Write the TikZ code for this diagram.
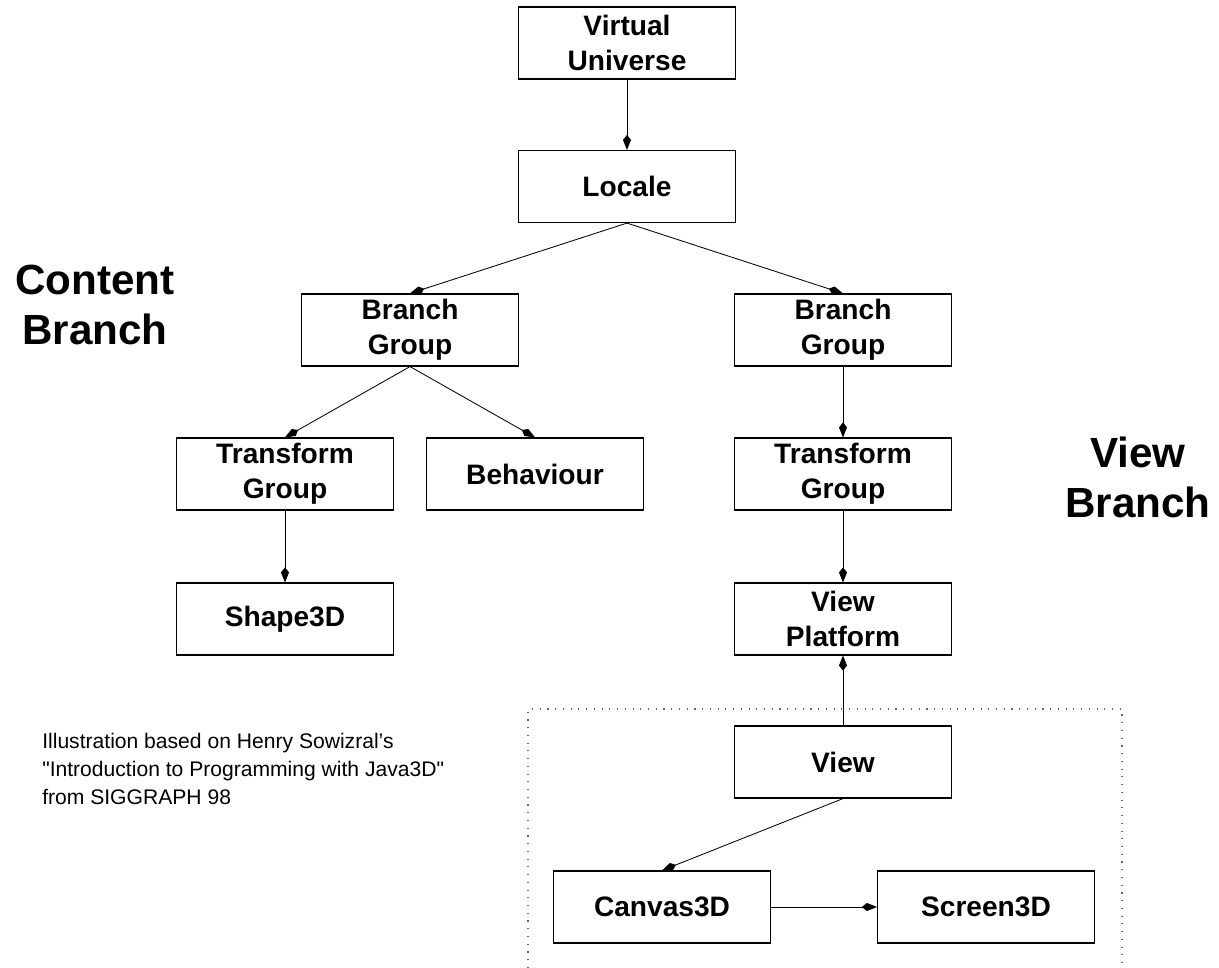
\documentclass[tikz,border=0pt]{standalone}
\usepackage{fontspec}
\setmainfont{Liberation Sans}
\usetikzlibrary{arrows.meta}

\begin{document}
\begin{tikzpicture}[x=0.025cm,y=-0.025cm,
	blok/.style={draw,line width=0.8pt,minimum width=5.425cm,minimum height=1.8cm,inner sep=0pt,align=center,font=\fontsize{20}{25}\selectfont\bfseries},
	pijl/.style={-{Kite[length=0.375cm,width=0.2cm,inset=0.125cm]},line width=0.6pt},
	kop/.style={align=center,inner sep=0pt,font=\fontsize{30}{35.6}\selectfont\bfseries}]
	\useasboundingbox (0,0) rectangle (1219,968);
	% top of the tree
	\node[blok] (vu) at (627,43) {Virtual\\Universe};
	\node[blok] (locale) at (627,186.5) {Locale};
	% content branch
	\node[blok] (bgl) at (410,330) {Branch\\Group};
	\node[blok] (tgl) at (285,474) {Transform\\Group};
	\node[blok] (behav) at (535,474) {Behaviour};
	\node[blok] (shape) at (285,619) {Shape3D};
	% view branch
	\node[blok] (bgr) at (843,330) {Branch\\Group};
	\node[blok] (tgr) at (843,474) {Transform\\Group};
	\node[blok] (vp) at (843,619) {View\\Platform};
	\node[blok] (view) at (843,762) {View};
	\node[blok] (canvas) at (662,907) {Canvas3D};
	\node[blok] (screen) at (986,907) {Screen3D};
	% headings and note
	\node[kop] (ckop) at (95,305) {Content\\Branch};
	\node[kop] (vkop) at (1138,477) {View\\Branch};
	\node[anchor=north west,inner sep=0pt,align=left,font=\fontsize{15}{20}\selectfont] (note) at (42,733)
		{Illustration based on Henry Sowizral's\\\textquotedbl Introduction to Programming with Java3D\textquotedbl\\from SIGGRAPH 98};
	% dotted frame round the view
	\draw[gray!80!black,line width=0.8pt,dash pattern=on 0.8pt off 4.7pt] (528,968) -- (528,709) -- (1122,709) -- (1122,968);
	% connectors
	\draw[pijl] (vu.south) -- (locale.north);
	\draw[pijl] (locale.south) -- (bgl.north);
	\draw[pijl] (locale.south) -- (bgr.north);
	\draw[pijl] (bgl.south) -- (tgl.north);
	\draw[pijl] (bgl.south) -- (behav.north);
	\draw[pijl] (tgl.south) -- (shape.north);
	\draw[pijl] (bgr.south) -- (tgr.north);
	\draw[pijl] (tgr.south) -- (vp.north);
	\draw[pijl] (view.north) -- (vp.south);
	\draw[pijl] (view.south) -- (canvas.north);
	\draw[pijl] (canvas.east) -- (screen.west);
\end{tikzpicture}
\end{document}
